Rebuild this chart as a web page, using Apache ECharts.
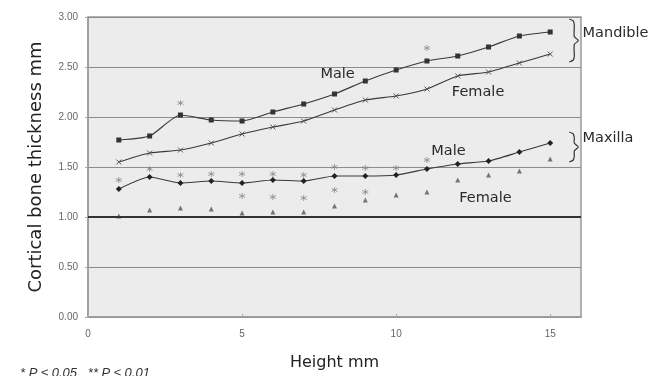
<!DOCTYPE html>
<html><head><meta charset="utf-8">
<script src="https://cdn.jsdelivr.net/npm/echarts@6/dist/echarts.min.js"></script>
<style>html,body{margin:0;padding:0;background:#fff}#c{width:651px;height:376px}</style>
</head><body><div id="c"></div>
<script>
const heights = [1,2,3,4,5,6,7,8,9,10,11,12,13,14,15];
const mandibleMale   = [1.77,1.81,2.02,1.97,1.96,2.05,2.13,2.23,2.36,2.47,2.56,2.61,2.70,2.81,2.85];
const mandibleFemale = [1.55,1.64,1.67,1.74,1.83,1.90,1.96,2.07,2.17,2.21,2.28,2.41,2.45,2.54,2.63];
const maxillaMale    = [1.28,1.40,1.34,1.36,1.34,1.37,1.36,1.41,1.41,1.42,1.48,1.53,1.56,1.65,1.74];
const maxillaFemale  = [1.01,1.07,1.09,1.08,1.04,1.05,1.05,1.11,1.17,1.22,1.25,1.37,1.42,1.46,1.58];
const starsX = [3,11, 1,2,3,4,5,6,7,8,9,10,11, 5,6,7,8,9];
const starsY = [2.14,2.69, 1.37,1.48,1.42,1.43,1.43,1.43,1.42,1.50,1.49,1.49,1.57, 1.21,1.20,1.19,1.27,1.25];
const yTicks = [0,0.5,1,1.5,2,2.5,3];
const xTicks = [0,5,10,15];

const pair = (ys) => heights.map((h,i)=>[h, ys[i]]);
const FONT = 'Liberation Sans, Arial, sans-serif';
const TFONT = 'DejaVu Sans, sans-serif';
const lineCol = '#3a3a3a';
const star = 'path://M5,0L5,10M0.7,2.5L9.3,7.5M0.7,7.5L9.3,2.5';
const cross = 'path://M0,0L10,10M10,0L0,10';

const chart = echarts.init(document.getElementById('c'), null, {renderer:'canvas'});
chart.setOption({
  animation:false,
  backgroundColor:'#fff',
  grid:{left:88,right:70,top:17,bottom:58,show:true,backgroundColor:'#ececec',borderColor:'#9a9a9a',borderWidth:1.5},
  xAxis:{type:'value',min:0,max:16,interval:5,
    name:'Height mm',nameLocation:'middle',nameGap:38,
    nameTextStyle:{fontFamily:TFONT,fontSize:16,color:'#222'},
    axisLine:{lineStyle:{color:'#9a9a9a',width:1.5}},
    axisTick:{show:true,inside:true,length:3,lineStyle:{color:'#aaa'}},
    axisLabel:{fontFamily:FONT,fontSize:10,color:'#666',margin:12,
      formatter:v=>xTicks.includes(v)?String(v):''},
    splitLine:{show:false}},
  yAxis:{type:'value',min:0,max:3,interval:0.5,
    name:'Cortical bone thickness mm',nameLocation:'middle',nameGap:43,
    nameTextStyle:{fontFamily:TFONT,fontSize:18,color:'#222'},
    axisLine:{show:true,lineStyle:{color:'#9a9a9a',width:1.5}},
    axisTick:{show:true,length:3,lineStyle:{color:'#aaa'}},
    axisLabel:{fontFamily:FONT,fontSize:10,color:'#666',margin:10,
      formatter:v=>yTicks.includes(v)?v.toFixed(2):''},
    splitLine:{show:true,lineStyle:{color:'#8c8c8c',width:1.2}}},
  series:[
    {type:'line',data:pair(mandibleMale),smooth:0.2,symbol:'rect',symbolSize:5,
      lineStyle:{color:lineCol,width:1.2},itemStyle:{color:'#333'},
      markLine:{silent:true,symbol:'none',label:{show:false},
        lineStyle:{color:'#333',width:2,type:'solid'},data:[{yAxis:1}]}},
    {type:'line',data:pair(mandibleFemale),smooth:0.2,symbol:cross,symbolSize:5,
      lineStyle:{color:lineCol,width:1.2},itemStyle:{color:'none',borderColor:'#555',borderWidth:1}},
    {type:'line',data:pair(maxillaMale),smooth:0.2,symbol:'diamond',symbolSize:6,
      lineStyle:{color:lineCol,width:1.2},itemStyle:{color:'#222'}},
    {type:'scatter',data:pair(maxillaFemale),symbol:'triangle',symbolSize:5,
      itemStyle:{color:'#555'}},
    {type:'scatter',data:starsX.map((x,i)=>[x,starsY[i]]),symbol:star,symbolSize:6,
      itemStyle:{color:'none',borderColor:'#888',borderWidth:1}}
  ]
});

function px(x,y){return chart.convertToPixel({gridIndex:0},[x,y]);}
function brace(xd, yTop, yBot){
  const a = px(xd, yTop), b = px(xd, yBot);
  const x0 = a[0], y0 = a[1], y1 = b[1], ym = (y0+y1)/2, w = 5;
  return {type:'polyline',shape:{smooth:0.25,points:[
      [x0,y0],[x0+w-1,y0+2],[x0+w,y0+6],[x0+w,ym-4],[x0+w+4,ym],
      [x0+w,ym+4],[x0+w,y1-6],[x0+w-1,y1-2],[x0,y1]]},
    style:{stroke:'#333',lineWidth:1.2,fill:null}};
}
function txt(x,y,s,size,align){
  const p = px(x,y);
  return {type:'text',x:p[0],y:p[1],style:{text:s,fontFamily:TFONT,fontSize:size,fill:'#2a2a2a',align:align||'center',verticalAlign:'middle'}};
}
chart.setOption({graphic:[
  brace(15.62, 2.98, 2.55),
  brace(15.62, 1.85, 1.55),
  txt(16.05, 2.84, 'Mandible', 14.5, 'left'),
  txt(16.05, 1.79, 'Maxilla', 14.5, 'left'),
  txt(8.1, 2.43, 'Male', 14.5),
  txt(12.66, 2.25, 'Female', 14.5),
  txt(11.7, 1.66, 'Male', 14.5),
  txt(12.9, 1.19, 'Female', 14.5),
  {type:'text',left:20,top:367,style:{text:'* P ≤ 0.05   ** P ≤ 0.01',fontFamily:FONT,fontSize:13,fontStyle:'italic',fill:'#333'}}
]});
</script></body></html>
